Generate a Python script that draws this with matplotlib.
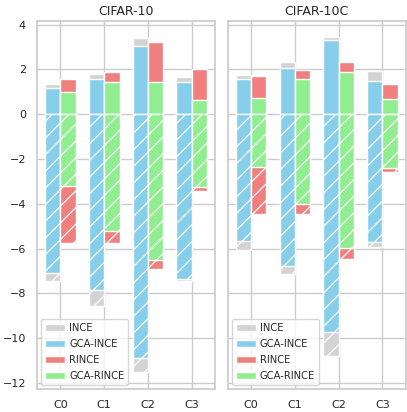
import numpy as np
import matplotlib
matplotlib.use("Agg")
import matplotlib.pyplot as plt
import seaborn as sns

sns.set_theme(style="whitegrid")
plt.rcParams['font.family'] = ['DejaVu Sans']
plt.rcParams['hatch.linewidth'] = 0.9

categorias = ['C0', 'C1', 'C2', 'C3']
titulos = ['CIFAR-10', 'CIFAR-10C']
metodos = ['INCE', 'GCA-INCE', 'RINCE', 'GCA-RINCE']
colores = ['lightgray', 'skyblue', 'lightcoral', 'lightgreen']

# valores positivos (parte de arriba)
pos_c10 = {
    'INCE': [1.36, 1.81, 3.42, 1.64],
    'GCA-INCE': [1.17, 1.57, 3.03, 1.43],
    'RINCE': [1.58, 1.87, 3.23, 2.02],
    'GCA-RINCE': [0.97, 1.43, 1.43, 0.63],
}
# valores negativos (parte de abajo, con rayado)
neg_c10 = {
    'INCE': [-7.43, -8.55, -11.52, -7.43],
    'GCA-INCE': [-7.11, -7.83, -10.89, -7.35],
    'RINCE': [-5.75, -5.76, -6.92, -3.44],
    'GCA-RINCE': [-3.20, -5.23, -6.52, -3.23],
}
pos_c10c = {
    'INCE': [1.76, 2.31, 3.43, 1.93],
    'GCA-INCE': [1.55, 2.06, 3.30, 1.46],
    'RINCE': [1.70, 1.97, 2.34, 1.36],
    'GCA-RINCE': [0.72, 1.57, 1.90, 0.67],
}
neg_c10c = {
    'INCE': [-6.08, -7.13, -10.79, -5.93],
    'GCA-INCE': [-5.67, -6.77, -9.73, -5.69],
    'RINCE': [-4.47, -4.44, -6.47, -2.60],
    'GCA-RINCE': [-2.35, -4.02, -5.99, -2.41],
}

fig, axes = plt.subplots(1, 2, figsize=(4.07, 4.12), dpi=100, sharey=True)
fig.subplots_adjust(left=0.091, right=0.997, bottom=0.056, top=0.95, wspace=0.07)

x = np.arange(len(categorias))
ancho = 0.35
desplaz = [-ancho / 2, -ancho / 2, ancho / 2, ancho / 2]

for ax, titulo, pos, neg in zip(axes, titulos, [pos_c10, pos_c10c], [neg_c10, neg_c10c]):
    for m, c, d in zip(metodos, colores, desplaz):
        ax.bar(x + d, pos[m], ancho, color=c, edgecolor='white', linewidth=1, label=m)
        ax.bar(x + d, neg[m], ancho, color=c, edgecolor='white', linewidth=1, hatch='//')
    ax.set_title(titulo, fontsize=9, pad=4)
    ax.set_xticks(x)
    ax.set_xticklabels(categorias)
    ax.tick_params(labelsize=8, pad=2)
    ax.legend(loc='lower left', fontsize=7.2, handlelength=2.0, handletextpad=0.4,
              borderaxespad=0.4, labelspacing=0.6)

fig.savefig('out.png', dpi=100)
